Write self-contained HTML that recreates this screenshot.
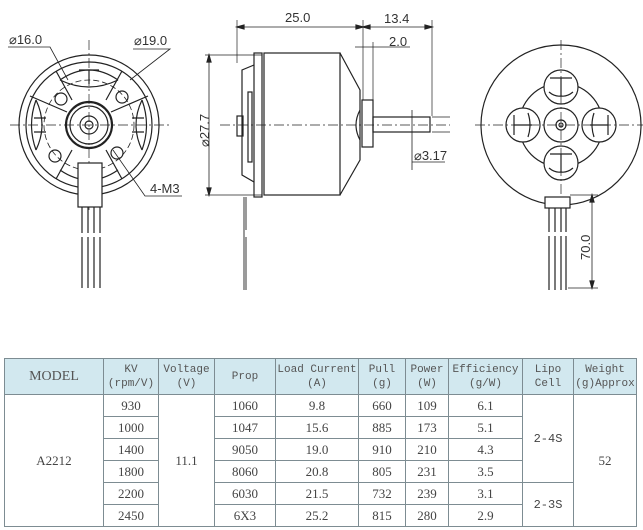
<!DOCTYPE html>
<html><head><meta charset="utf-8"><style>
html,body{margin:0;padding:0;background:#fff;width:643px;height:530px;overflow:hidden;}
svg{position:absolute;left:0;top:0;}
table{position:absolute;left:4px;top:358px;border-collapse:collapse;font-family:"Liberation Mono",monospace;color:#444;}
td{border:1.5px solid #7d8c92;text-align:center;padding:0;font-size:12px;line-height:12px;}
th{border:1.5px solid #7d8c92;background:#d2e8ef;font-weight:normal;font-size:11px;line-height:14px;color:#555;padding:0;}
td.n{font-family:"Liberation Serif",serif;font-size:13px;}
</style></head><body>
<svg width="643" height="350" viewBox="0 0 643 350" fill="none" stroke="#222" stroke-width="1.2">
<g font-family="Liberation Sans,sans-serif" font-size="13" fill="#333" stroke="none">
<text x="9" y="44">⌀16.0</text>
<text x="134" y="45">⌀19.0</text>
<text x="150" y="193">4-M3</text>
<text x="285" y="22">25.0</text>
<text x="384" y="23">13.4</text>
<text x="389" y="46">2.0</text>
<text x="414" y="160">⌀3.17</text>
<text transform="translate(209,147) rotate(-90)">⌀27.7</text>
<text transform="translate(590,260) rotate(-90)">70.0</text>
</g>
<!-- LEFT VIEW -->
<g>
<circle cx="89" cy="125" r="70"/>
<circle cx="89" cy="125" r="63"/>
<circle cx="89" cy="125" r="45" stroke-dasharray="6,3" stroke-width="0.8"/>
<circle cx="89" cy="125" r="23" stroke-width="2.2"/>
<circle cx="89" cy="125" r="19"/>
<circle cx="89" cy="125" r="9"/>
<circle cx="89" cy="125" r="4"/>
<circle cx="61" cy="99" r="6"/><circle cx="122" cy="97" r="6"/>
<circle cx="55" cy="156" r="6"/><circle cx="117" cy="153" r="6"/>
<path d="M60 80 Q89 60 118 80 M60 80 Q89 94 118 80"/>
<path d="M79 70 h20 M89 70 v14"/>
<path d="M36 100 Q27 125 36 150 M36 100 Q48 125 36 150"/>
<path d="M142 100 Q151 125 142 150 M142 100 Q130 125 142 150"/>
<path d="M34 118 h12 M34 132 h12"/><path d="M132 118 h12 M132 132 h12"/>
<path d="M60 170 Q89 190 118 170"/>
<path d="M56 71 L72 100 M122 71 L106 100 M56 179 L72 150 M122 179 L106 150 M30 96 L67 112 M148 96 L111 112"/>
<path d="M10 125 H170 M89 40 V210" stroke-dasharray="10,3,2,3" stroke-width="0.7"/>
<rect x="78" y="163" width="24" height="44" fill="#fff"/>
<path d="M82 207 V233 M88 207 V233 M94 207 V233 M100 207 V233 M82 237 V288 M88 237 V288 M94 237 V288 M100 237 V288"/>
<path d="M8 47 H50 L68 80 M133 49 H170 L130 80 M113 150 L145 196 H182" stroke-width="0.8"/>
</g>
<!-- MIDDLE VIEW -->
<g>
<rect x="254" y="53" width="8" height="144"/>
<path d="M254 65 L242 70 V175 L254 182"/>
<rect x="237" y="116" width="6" height="20"/>
<rect x="248" y="92" width="4" height="70"/>
<rect x="264" y="53" width="76" height="142"/>
<path d="M340 53 L360 90 V160 L340 195"/>
<path d="M360 110 Q352 125 360 140"/>
<rect x="362" y="100" width="11" height="47"/>
<rect x="373" y="117" width="57" height="15"/>
<path d="M220 125 H450" stroke-dasharray="10,3,2,3" stroke-width="0.7"/>
<path d="M246 197 V230 M246 237 V290 M244 197 V290" stroke-width="0.9"/>
<path d="M237 20 V63 M363 20 V100 M373 42 V100 M432 20 V116" stroke-width="0.7"/>
<path d="M237 27 H432 M355 47 H410 M205 55 H262 M205 195 H262 M209 55 V195 M412 110 V170 M432 117 H450 M432 132 H450 M412 162 H445" stroke-width="0.8"/>
<path d="M237 27 l7 -2 v4z M363 27 l-7 -2 v4z M363 27 l7 -2 v4z M432 27 l-7 -2 v4z M209 55 l-2 7 h4z M209 195 l-2 -7 h4z" fill="#222"/>
</g>
<!-- RIGHT VIEW -->
<g>
<circle cx="561" cy="125" r="80"/>
<circle cx="561" cy="125" r="42"/>
<circle cx="561" cy="125" r="17"/>
<circle cx="561" cy="125" r="5"/><circle cx="561" cy="125" r="2"/>
<circle cx="561" cy="87" r="17" fill="#fff"/><path d="M550 78 h22 M561 78 v18 M549 92 Q555 97 561 96 Q567 97 573 92"/>
<circle cx="561" cy="163" r="17" fill="#fff"/><path d="M550 154 h22 M561 154 v18 M549 168 Q555 173 561 172 Q567 173 573 168"/>
<circle cx="523" cy="125" r="17" fill="#fff"/><path d="M514 115 v20 M514 125 h18 M528 113 Q532 125 528 137"/>
<circle cx="599" cy="125" r="17" fill="#fff"/><path d="M608 115 v20 M608 125 h-18 M594 113 Q590 125 594 137"/>
<path d="M475 125 H643 M561 40 V210" stroke-dasharray="10,3,2,3" stroke-width="0.7"/>
<rect x="545" y="197" width="25" height="11" fill="#fff"/>
<path d="M549 208 V232 M555 208 V232 M561 208 V232 M566 208 V232 M549 236 V290 M555 236 V290 M561 236 V290 M566 236 V290"/>
<path d="M570 195 H598 M568 288 H598 M592 195 V288" stroke-width="0.8"/>
<path d="M592 195 l-2 7 h4z M592 288 l-2 -7 h4z" fill="#222"/>
</g>
</svg>
<table>
<colgroup><col style="width:99px"><col style="width:55px"><col style="width:56px"><col style="width:61px"><col style="width:83px"><col style="width:47px"><col style="width:43px"><col style="width:74px"><col style="width:51px"><col style="width:63px"></colgroup>
<tr style="height:36px"><th style="font-family:'Liberation Serif',serif;font-size:14px">MODEL</th><th>KV<br>(rpm/V)</th><th>Voltage<br>(V)</th><th>Prop</th><th>Load Current<br>(A)</th><th>Pull<br>(g)</th><th>Power<br>(W)</th><th>Efficiency<br>(g/W)</th><th>Lipo<br>Cell</th><th>Weight<br>(g)Approx</th></tr>
<tr style="height:22px"><td class="n" rowspan="6">A2212</td><td class="n">930</td><td class="n" rowspan="6">11.1</td><td class="n">1060</td><td class="n">9.8</td><td class="n">660</td><td class="n">109</td><td class="n">6.1</td><td rowspan="4">2-4S</td><td class="n" rowspan="6">52</td></tr>
<tr style="height:22px"><td class="n">1000</td><td class="n">1047</td><td class="n">15.6</td><td class="n">885</td><td class="n">173</td><td class="n">5.1</td></tr>
<tr style="height:22px"><td class="n">1400</td><td class="n">9050</td><td class="n">19.0</td><td class="n">910</td><td class="n">210</td><td class="n">4.3</td></tr>
<tr style="height:22px"><td class="n">1800</td><td class="n">8060</td><td class="n">20.8</td><td class="n">805</td><td class="n">231</td><td class="n">3.5</td></tr>
<tr style="height:22px"><td class="n">2200</td><td class="n">6030</td><td class="n">21.5</td><td class="n">732</td><td class="n">239</td><td class="n">3.1</td><td rowspan="2">2-3S</td></tr>
<tr style="height:22px"><td class="n">2450</td><td class="n">6X3</td><td class="n">25.2</td><td class="n">815</td><td class="n">280</td><td class="n">2.9</td></tr>
</table>
</body></html>
